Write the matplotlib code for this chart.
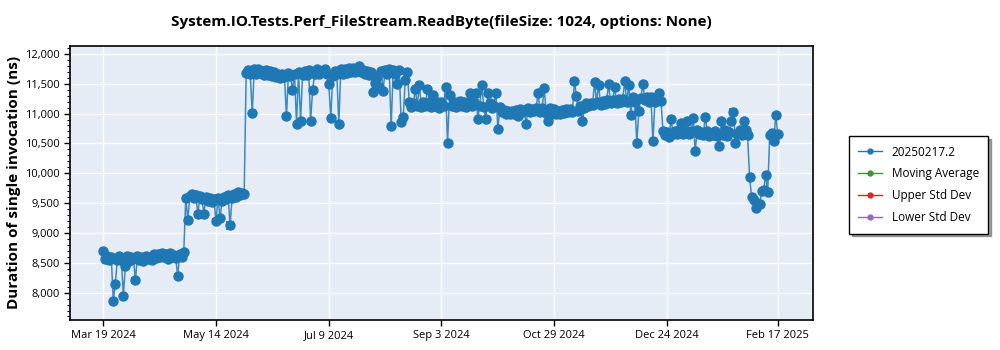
import matplotlib
matplotlib.use("Agg")
import matplotlib.pyplot as plt
import matplotlib.dates as mdates
from matplotlib.lines import Line2D
from matplotlib.ticker import MultipleLocator, FuncFormatter
import pandas as pd

plt.rcParams['font.family'] = ['Open Sans', 'DejaVu Sans']

# one result per day, Mar 19 2024 .. Feb 17 2025
run_dates = pd.date_range('2024-03-19', '2025-02-17', freq='D')

durations = [
    8690, 8560, 8620, 8540, 8600, 7855, 8150, 8540, 8620, 8550,
    7950, 8450, 8620, 8530, 8600, 8560, 8205, 8620, 8540, 8590,
    8530, 8610, 8560, 8590, 8550, 8640, 8580, 8650, 8590, 8660,
    8600, 8640, 8570, 8660, 8600, 8630, 8580, 8283, 8650, 8590,
    8680,
    9580, 9217, 9620, 9660, 9580, 9640, 9317, 9620, 9570, 9317,
    9610, 9540, 9580, 9520, 9560, 9200, 9590, 9245, 9540, 9610,
    9570, 9630, 9128, 9590, 9650, 9600, 9680, 9630, 9670, 9650,
    11680, 11730, 11660, 11017, 11740, 11660, 11750, 11680, 11720, 11650,
    11730, 11640, 11710, 11630, 11700, 11620, 11670, 11600, 11660, 11620,
    10955, 11680, 11630, 11395, 11670, 10828, 11690, 10883, 11640, 11720,
    11650, 11730, 10883, 11395, 11660, 11740, 11670, 11720, 11690, 11750,
    11660, 11495, 10922, 11630, 11720, 11670, 10828, 11740, 11660, 11750,
    11680, 11760, 11690, 11770, 11700, 11740, 11800, 11690, 11730, 11660,
    11710, 11640, 11700, 11367, 11520, 11620, 11450, 11710, 11383, 11730,
    11660, 11750, 10783, 11730, 11660, 11495, 11730, 10855, 10950, 11560,
    11700,
    11190, 11110, 11170, 11412, 11130, 11483, 11110, 11200, 11120, 11412,
    11190, 11110, 11312, 11120, 11200, 11100, 11190, 11120, 11438, 10505,
    11317, 11120, 11200, 11110, 11190, 11210, 11120, 11200, 11110, 11190,
    11345, 11120, 11200, 11345, 10912, 11130, 11478, 11110, 10912, 11345,
    11180, 11090, 11130, 11350, 10733, 11110, 11020, 11060, 10990, 11040,
    10990, 11050, 11000, 11060, 10960, 11080, 11020, 11060, 10828, 11090,
    11030, 11080, 11040, 11100, 11345, 11020, 11100, 11422, 11010, 10867,
    11090, 11000, 11080, 10990, 11040, 11000, 11060, 11010, 11070, 11020,
    11080, 11030, 11538, 11300, 11050, 11130, 10867, 11100, 11180, 11130,
    11180, 11140, 11522, 11200, 11478, 11150, 11210, 11160, 11220, 11495,
    11170, 11230, 11438, 11180, 11240, 11190, 11250, 11538, 11190, 11478,
    10980, 11270, 11190, 10505, 11050, 11260, 11495, 11220, 11280, 11190,
    11270, 10538, 11200, 11250, 11345, 11210,
    10710, 10640, 10690, 10600, 10912, 10650, 10700, 10660, 10720, 10838,
    10650, 10700, 10883, 10650, 10710, 10928, 10367, 10730, 10650, 10690,
    10640, 10950, 10700, 10630, 10680, 10640, 10700, 10620, 10450, 10883,
    10640, 10720, 10630, 10690, 10867, 11033, 10505, 10650, 10730, 10640,
    10883, 10720, 10640,
    9938, 9600, 9550, 9412, 9480, 9478, 9700, 9720, 9967, 9688,
    10640, 10680, 10533, 10983, 10650,
]

# days (index into run_dates) that show a visible error bar, and its half size
err_idx = [16, 37, 42, 47, 50, 56, 58, 63, 185, 234, 262, 266, 313, 254, 244]
err_size = [45, 30, 35, 30, 25, 35, 30, 55, 40, 40, 35, 30, 40, 25, 25]

x_ticks = ['2024-03-19', '2024-05-14', '2024-07-09', '2024-09-03',
           '2024-10-29', '2024-12-24', '2025-02-17']
x_tick_labels = ['Mar 19 2024', 'May 14 2024', 'Jul 9 2024', 'Sep 3 2024',
                 'Oct 29 2024', 'Dec 24 2024', 'Feb 17 2025']

legend_names = ['20250217.2', 'Moving Average', 'Upper Std Dev', 'Lower Std Dev']
legend_colors = ['#1f77b4', '#2ca02c', '#d62728', '#9467bd']

fig = plt.figure(figsize=(10, 3.5), dpi=100)
ax = fig.add_axes([0.070, 0.086, 0.743, 0.783])
ax.set_facecolor('#e5ecf6')

ax.plot(run_dates, durations, color='#1f77b4', lw=1.1, alpha=0.85, zorder=3)
ax.plot(run_dates, durations, ls='none', marker='o', ms=6.5, color='#1f77b4', zorder=4)
ax.errorbar([run_dates[i] for i in err_idx], [durations[i] for i in err_idx],
            yerr=err_size, fmt='none', ecolor='#1f77b4', elinewidth=1.2,
            capsize=3, capthick=1.2, zorder=4)

ax.set_ylim(7543, 12134)
ax.set_xlim(pd.Timestamp('2024-03-02 12:00'), pd.Timestamp('2025-03-06 12:00'))
ax.yaxis.set_major_locator(MultipleLocator(500))
ax.yaxis.set_minor_locator(MultipleLocator(100))
ax.yaxis.set_major_formatter(FuncFormatter(lambda v, p: f'{int(v):,}'))
ax.set_xticks([mdates.date2num(pd.Timestamp(d)) for d in x_ticks])
ax.set_xticklabels(x_tick_labels)
ax.tick_params(axis='both', labelsize=8, length=4, width=1, colors='black')
ax.tick_params(axis='y', which='minor', length=2.5, width=0.8)
ax.grid(True, color='white', lw=1)
ax.set_axisbelow(True)
for s in ax.spines.values():
    s.set_color('black')
    s.set_linewidth(1.2)

ax.set_title('System.IO.Tests.Perf_FileStream.ReadByte(fileSize: 1024, options: None)',
             fontsize=11, fontweight='bold', pad=14)
ax.set_ylabel('Duration of single invocation (ns)', fontsize=11, fontweight='bold', labelpad=3)

handles = [Line2D([], [], color=c, lw=1, marker='o', ms=3.5) for c in legend_colors]
leg = fig.legend(handles, legend_names, loc='upper left', bbox_to_anchor=(0.849, 0.611),
                 bbox_transform=fig.transFigure, borderaxespad=0, fontsize=8.5,
                 frameon=True, fancybox=False, shadow=True, edgecolor='black',
                 handlelength=2.0, labelspacing=0.75, borderpad=0.8)
leg.get_frame().set_linewidth(1)

fig.savefig('out.png', dpi=100)
